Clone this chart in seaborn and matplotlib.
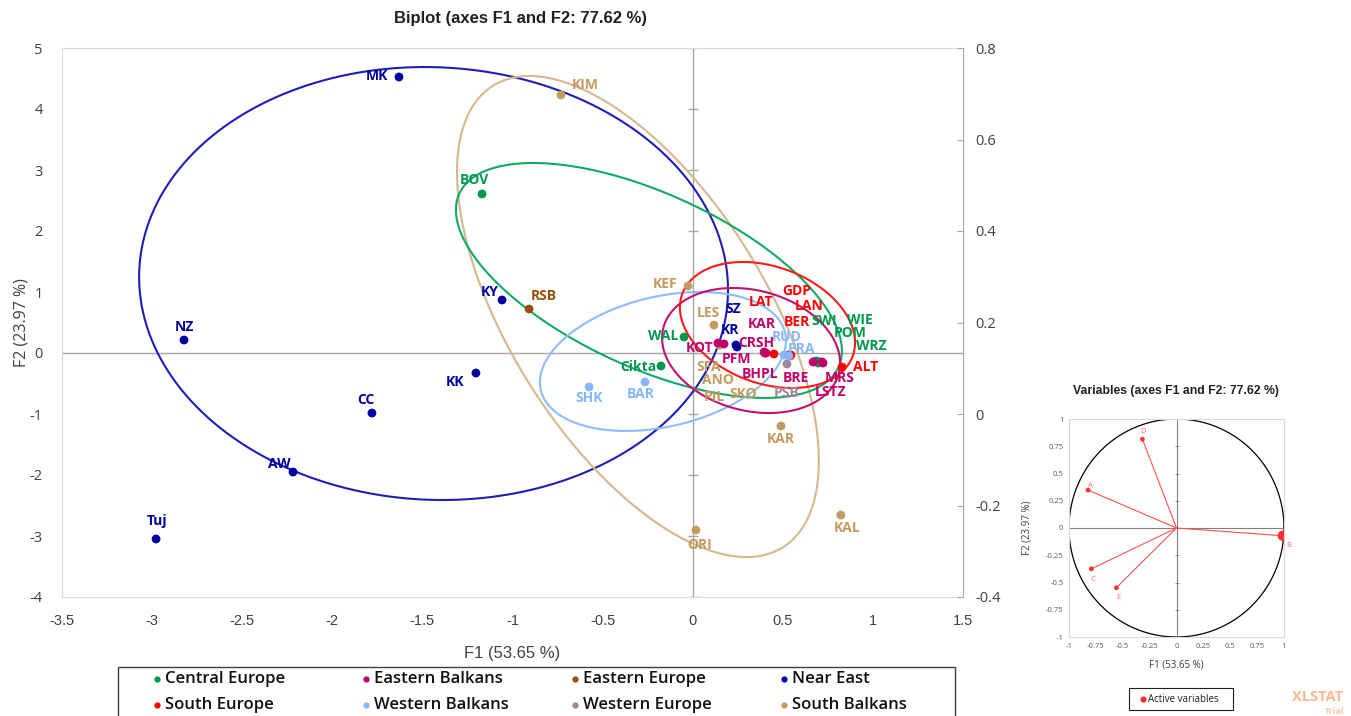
import numpy as np
import pandas as pd
import matplotlib.pyplot as plt
import seaborn as sns
from matplotlib.patches import Rectangle
from matplotlib.lines import Line2D

sns.set_style('white')
plt.rcParams['font.family'] = ['Open Sans', 'DejaVu Sans']
plt.rcParams['axes.unicode_minus'] = False

names = ['MK', 'NZ', 'KY', 'KK', 'CC', 'AW', 'Tuj', 'SZ', 'KR',
         'RSB',
         'BOV', 'WAL', 'Cikta', 'SWI', 'WIE', 'POM', 'WRZ',
         'KOT', 'PFM', 'KAR', 'CRSH', 'BHPL', 'BRE', 'MRS', 'LSTZ',
         'LAT', 'GDP', 'LAN', 'BER', 'ALT',
         'SHK', 'BAR', 'RUD', 'PRA',
         'PSB',
         'KIM', 'KEF', 'LES', 'SFA', 'ANO', 'PIL', 'SKO', 'KAR', 'KAL', 'ORI']
f1 = [-1.630, -2.823, -1.058, -1.203, -1.780, -2.218, -2.978, 0.240, 0.246,
      -0.908,
      -1.169, -0.048, -0.176, 0.684, 0.701, 0.695, 0.706,
      0.140, 0.174, 0.396, 0.407, 0.401, 0.668, 0.718, 0.723,
      0.451, 0.540, 0.534, 0.545, 0.829,
      -0.575, -0.265, 0.507, 0.534,
      0.523,
      -0.731, -0.026, 0.118, 0.146, 0.151, 0.146, 0.401, 0.490, 0.822, 0.018]
f2 = [4.525, 0.213, 0.869, -0.328, -0.984, -1.951, -3.049, 0.131, 0.098,
      0.721,
      2.607, 0.262, -0.213, -0.131, -0.148, -0.164, -0.148,
      0.164, 0.148, 0.016, 0.000, 0.000, -0.148, -0.148, -0.164,
      -0.016, -0.049, -0.033, -0.033, -0.230,
      -0.557, -0.475, -0.033, -0.049,
      -0.180,
      4.230, 1.098, 0.459, 0.148, 0.131, 0.131, 0.000, -1.197, -2.656, -2.902]
groups = (['Near East'] * 9 + ['Eastern Europe'] + ['Central Europe'] * 7
          + ['Eastern Balkans'] * 8 + ['South Europe'] * 5
          + ['Western Balkans'] * 4 + ['Western Europe'] + ['South Balkans'] * 10)

legend_order = ['Central Europe', 'Eastern Balkans', 'Eastern Europe', 'Near East',
                'South Europe', 'Western Balkans', 'Western Europe', 'South Balkans']
draw_order = ['South Balkans', 'Central Europe', 'Eastern Europe', 'Near East',
              'Eastern Balkans', 'South Europe', 'Western Europe', 'Western Balkans']
palette = {'Central Europe': '#00974C', 'Eastern Balkans': '#C0006A',
           'Eastern Europe': '#9C4E0C', 'Near East': '#0000A0',
           'South Europe': '#FF0000', 'Western Balkans': '#86B6FF',
           'Western Europe': '#A48694', 'South Balkans': '#C49A5E'}
ellipse_colors = {'Near East': '#1E1EB4', 'South Balkans': '#D6B88E',
                  'Central Europe': '#12A868', 'Western Balkans': '#8CBCFF',
                  'Eastern Balkans': '#C4106C', 'South Europe': '#FF1A1A'}

# label offsets in pixels (right, up) from each point
label_offsets = [(-22, 1), (0, 13), (-12, 8), (-21, -9), (-6, 13), (-14, 8), (1, 18), (-3, 36), (-7, 17),
                 (15, 13),
                 (-8, 14), (-21, 1), (-23, -1), (8, 40), (41, 42), (32, 30), (51, 16),
                 (-18, -5), (12, -15), (-2, 28), (-10, 10), (-5, -21), (-17, -16), (18, -16), (8, -29),
                 (-13, 52), (7, 65), (20, 49), (6, 33), (24, 0),
                 (0, -11), (-4, -12), (3, 18), (13, 7),
                 (0, -29),
                 (24, 10), (-23, 2), (-6, 12), (-10, -23), (-2, -35), (-5, -52), (-22, -41), (0, -13),
                 (6, -13), (4, -15)]

# group ellipses: centre, half extent along F1 / F2 and correlation
ell_groups = ['Near East', 'South Balkans', 'Central Europe',
              'Western Balkans', 'Eastern Balkans', 'South Europe']
ell_cx = [-1.438, -0.304, -0.243, -0.165, 0.324, 0.415]
ell_cy = [1.139, 0.598, 1.189, -0.139, 0.041, 0.459]
ell_rx = [1.634, 1.004, 1.071, 0.683, 0.494, 0.486]
ell_ry = [3.549, 3.943, 1.926, 1.139, 1.025, 1.033]
ell_rho = [-0.03, -0.60, -0.60, 0.30, -0.20, -0.28]

# variables on the correlation circle
var_names = ['A', 'B', 'C', 'D', 'E']
var_f1 = [-0.823, 0.988, -0.792, -0.317, -0.559]
var_f2 = [0.348, -0.071, -0.375, 0.815, -0.548]
var_size = [18, 60, 18, 18, 18]
var_label_offsets = [(2, 5), (6, -10), (2, -11), (1, 8), (2, -10)]

W, H = 1351, 716


def fx(px):
    return px / W


def fy(py):
    return 1 - py / H


df = pd.DataFrame({'name': names, 'F1': f1, 'F2': f2, 'group': groups})
df['order'] = df['group'].map({g: i for i, g in enumerate(draw_order)})
df['dx'] = [o[0] for o in label_offsets]
df['dy'] = [o[1] for o in label_offsets]
df = df.sort_values('order', kind='stable')

fig = plt.figure(figsize=(W / 100, H / 100), dpi=100)
ax = fig.add_axes([fx(62), fy(597), 901 / W, 549 / H])

# ellipses
t = np.linspace(0, 2 * np.pi, 400)
for g, cx, cy, rx, ry, rho in zip(ell_groups, ell_cx, ell_cy, ell_rx, ell_ry, ell_rho):
    phi = np.arccos(rho)
    ax.plot(cx + rx * np.cos(t), cy + ry * np.cos(t - phi),
            color=ellipse_colors[g], lw=1.5, zorder=2)

# centre lines with small ticks
ax.axhline(0, color='#A6A6A6', lw=1, zorder=1)
ax.axvline(0, color='#A6A6A6', lw=1, zorder=1)
ax.plot(np.zeros(10), np.arange(-4, 6), ls='none', marker='_', ms=7,
        mew=1, color='#A6A6A6', zorder=1)

sns.scatterplot(data=df, x='F1', y='F2', hue='group', palette=palette,
                s=40, linewidth=0, legend=False, ax=ax, zorder=3)

for _, r in df.iterrows():
    ax.annotate(r['name'], (r['F1'], r['F2']), xytext=(r['dx'], r['dy']),
                textcoords='offset pixels', ha='center', va='center',
                fontsize=10, fontweight='bold', color=palette[r['group']], zorder=4)

ax.set_xlim(-3.5, 1.5)
ax.set_ylim(-4, 5)
xt = np.round(np.arange(-3.5, 1.51, 0.5), 1)
ax.set_xticks(xt)
ax.set_xticklabels([f'{v:g}' for v in xt], family=['Liberation Sans', 'DejaVu Sans'],
                   fontsize=10.5)
ax.set_yticks(np.arange(-4, 6))
ax.tick_params(axis='both', length=0, colors='#404040', labelsize=10.5)
ax.tick_params(axis='x', pad=12)
ax.tick_params(axis='y', pad=14)
for s in ['left', 'top', 'bottom']:
    ax.spines[s].set_color('#D9D9D9')
ax.spines['right'].set_visible(False)
ax.set_xlabel('F1 (53.65 %)', family=['Liberation Sans', 'DejaVu Sans'],
              fontsize=12, color='#404040', labelpad=13)
ax.set_ylabel('F2 (23.97 %)', fontsize=11.5, color='#404040', labelpad=0)

ax2 = ax.twinx()
ax2.set_ylim(-0.4, 0.8)
rt = np.round(np.arange(-0.4, 0.81, 0.2), 1)
ax2.set_yticks(rt)
ax2.set_yticklabels([f'{v:g}' for v in rt])
ax2.tick_params(axis='y', direction='in', length=4, color='#A6A6A6',
                colors='#404040', labelsize=10.5, pad=9)
ax2.tick_params(axis='y', color='#A6A6A6')
for s in ['left', 'top', 'bottom']:
    ax2.spines[s].set_visible(False)
ax2.spines['right'].set_color('#A6A6A6')

fig.text(fx(520), fy(18), 'Biplot (axes F1 and F2: 77.62 %)', ha='center', va='center',
         family=['Liberation Sans', 'DejaVu Sans'], fontsize=12, fontweight='bold', color='#202020')

# legend box
fig.add_artist(Rectangle((fx(118), fy(740)), 837 / W, 73 / H, transform=fig.transFigure,
                         fill=False, edgecolor='#404040', lw=1))
col_x = [157, 366, 575, 784]
row_y = [679, 705]
for i, g in enumerate(legend_order):
    x0, y0 = col_x[i % 4], row_y[i // 4]
    fig.add_artist(Line2D([fx(x0)], [fy(y0)], marker='o', ms=4.5, mew=0,
                          color=palette[g], transform=fig.transFigure))
    fig.text(fx(x0 + 8), fy(y0), g, ha='left', va='center', fontsize=12,
             fontweight='semibold', color='#101010')

# correlation circle inset
axi = fig.add_axes([fx(1069), fy(637), 215 / W, 218 / H])
axi.plot(np.cos(t), np.sin(t), color='black', lw=0.9)
axi.axhline(0, color='#808080', lw=0.8)
axi.axvline(0, color='#808080', lw=0.8)
axi.plot(np.zeros(9), np.arange(-1, 1.01, 0.25), ls='none', marker='_', ms=3,
         mew=0.6, color='#808080')
for x, y in zip(var_f1, var_f2):
    axi.plot([0, x], [0, y], color='#FF5050', lw=0.8)
vdf = pd.DataFrame({'F1': var_f1, 'F2': var_f2, 'size': var_size})
sns.scatterplot(data=vdf, x='F1', y='F2', size='size', sizes=(12, 55),
                color='#FF3030', linewidth=0, legend=False, ax=axi, zorder=3)
for n, x, y, (dx, dy) in zip(var_names, var_f1, var_f2, var_label_offsets):
    axi.annotate(n, (x, y), xytext=(dx, dy), textcoords='offset pixels',
                 ha='center', va='center', fontsize=5.5, color='#FF6A6A')
axi.set_xlim(-1, 1)
axi.set_ylim(-1, 1)
it = np.arange(-1, 1.01, 0.25)
axi.set_xticks(it)
axi.set_yticks(it)
axi.set_xticklabels([f'{v:g}' for v in it])
axi.set_yticklabels([f'{v:g}' for v in it])
axi.tick_params(length=0, labelsize=5.5, colors='#595959', pad=4)
for s in axi.spines.values():
    s.set_color('#D9D9D9')
axi.set_xlabel('')
axi.set_ylabel('')
fig.text(fx(1176), fy(391), 'Variables (axes F1 and F2: 77.62 %)', ha='center', va='center',
         family=['Liberation Sans', 'DejaVu Sans'], fontsize=8.8, fontweight='bold', color='#202020')
fig.text(fx(1176), fy(665), 'F1 (53.65 %)', ha='center', va='center', fontsize=7, color='#404040')
fig.text(fx(1027), fy(528), 'F2 (23.97 %)', ha='center', va='center', rotation=90,
         fontsize=7, color='#404040')

fig.add_artist(Rectangle((fx(1129), fy(710)), 104 / W, 22 / H, transform=fig.transFigure,
                         fill=False, edgecolor='#202020', lw=0.8))
fig.add_artist(Line2D([fx(1143)], [fy(699)], marker='o', ms=4.5, mew=0,
                      color='#FF3030', transform=fig.transFigure))
fig.text(fx(1148), fy(699), 'Active variables', ha='left', va='center', fontsize=7, color='#202020')

fig.text(fx(1317), fy(697), 'XLSTAT', ha='center', va='center', fontsize=10.5,
         fontweight='bold', color='#FAB792')
fig.text(fx(1335), fy(711), 'Trial', ha='center', va='center', fontsize=6.5,
         fontweight='bold', color='#FAC8AA')

fig.savefig('out.png', dpi=100)
